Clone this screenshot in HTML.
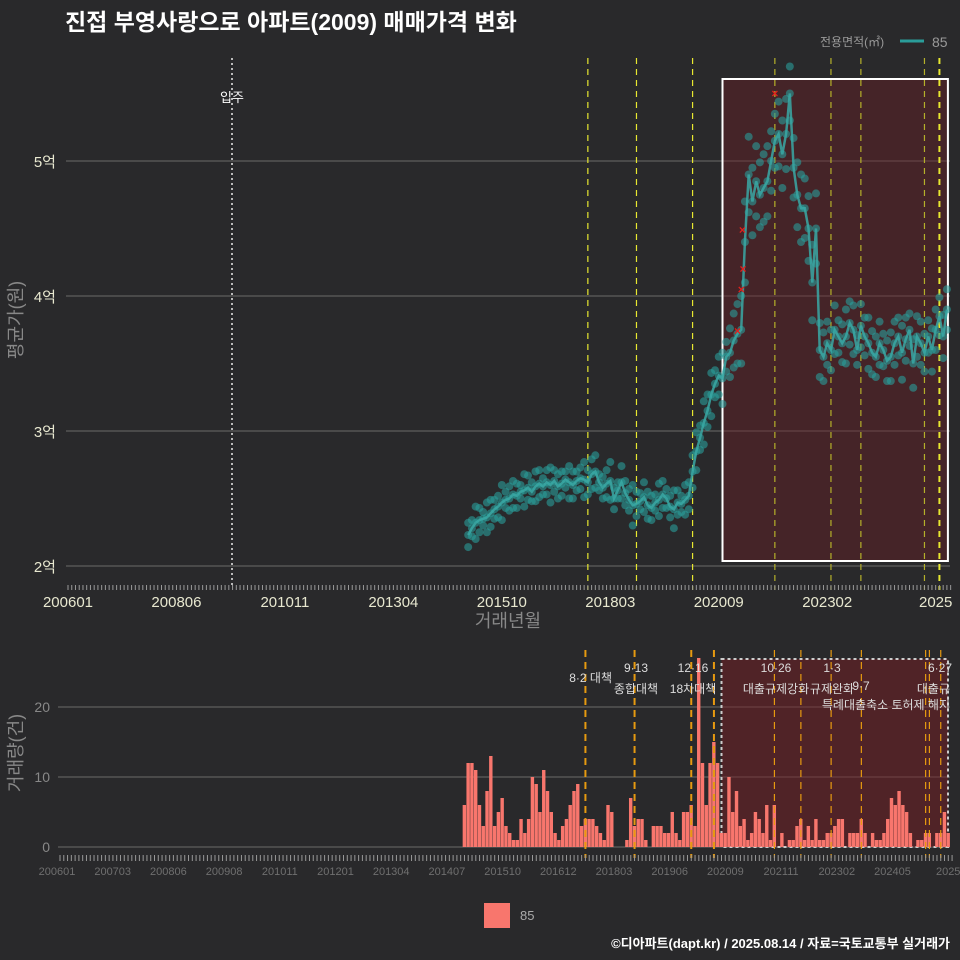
<!DOCTYPE html>
<html><head><meta charset="utf-8">
<style>
body{margin:0;background:#29292b;}
svg{display:block;font-family:"Liberation Sans","Noto Sans CJK KR",sans-serif;}
</style></head>
<body>
<svg id="c" width="960" height="960" viewBox="0 0 960 960">
<rect width="960" height="960" fill="#29292b"/>
<text x="65" y="30" fill="#fff" font-size="23" font-weight="bold">진접 부영사랑으로 아파트(2009) 매매가격 변화</text>
<g>
<text x="820" y="46" fill="#999" font-size="12">전용면적(㎡)</text>
<line x1="900" y1="41" x2="924" y2="41" stroke="#2a9d9a" stroke-width="3"/>
<text x="932" y="47" fill="#999" font-size="14">85</text>
</g>
<text transform="translate(22,320) rotate(-90)" text-anchor="middle" fill="#888" font-size="18">평균가(원)</text>
<text x="508" y="627" text-anchor="middle" fill="#888" font-size="18">거래년월</text>
<text transform="translate(22,753) rotate(-90)" text-anchor="middle" fill="#888" font-size="18">거래량(건)</text>
<g id="topPanel"></g>
<g id="botPanel"></g>
<rect x="484" y="903" width="26" height="25" fill="#f8766d"/>
<text x="520" y="920" fill="#aaa" font-size="13">85</text>
<text x="950" y="948" text-anchor="end" fill="#fff" font-size="13" font-weight="bold">©디아파트(dapt.kr) / 2025.08.14 / 자료=국토교통부 실거래가</text>
</svg>
<script>
const startMonth = 107; // 201412 as months since 200601
const avgPrice = [22300,22800,23200,23400,23500,23600,23900,24200,24400,24700,24900,25000,25300,
25200,25500,25600,25800,25500,25900,26100,25900,26200,26000,26300,25900,
26100,26400,26200,26000,26300,26500,26400,26200,26800,27000,26200,25800,
26100,26300,25000,25600,26200,25400,24900,24500,24600,24800,25100,24500,
24300,24700,24900,25300,25000,24400,24200,24700,24600,24900,25200,27000,
28500,29500,30600,31500,32700,33500,34100,33900,35500,35800,36700,37200,
37500,44000,49000,47000,48500,47500,48000,48500,50000,51500,52000,50500,
52000,55000,49500,47500,46500,46500,45000,41000,45000,36000,35500,36500,
36000,37500,37000,36500,37000,38000,37500,36000,37800,37000,36500,35800,
35500,36500,36000,35200,35500,36500,37000,35800,36800,37500,35000,37000,
36500,35800,37000,36000,37500,38500,37000,39000];
const priceSpread = [9,6,12,9,5,11,10,7,8,13,6,9,10,
9,5,12,9,7,11,10,6,9,13,8,9,
9,6,12,10,7,8,13,9,11,12,6,8,
10,14,8,6,12,9,8,15,9,6,11,10,
9,6,12,10,7,8,14,9,6,11,10,12,
14,9,16,12,16,10,14,19,11,18,20,22,
25,30,28,25,26,24,25,26,22,20,24,25,
26,20,22,24,25,22,24,28,26,20,18,16,
15,18,12,14,20,16,18,11,16,14,19,16,
15,16,12,15,18,16,14,20,16,12,18,15,
16,14,12,16,15,14,16,15];
const volume = [6,12,12,11,6,3,8,13,3,5,7,3,2,1,1,4,2,4,10,9,5,11,8,5,2,1,3,4,6,8,9,3,4,4,4,3,2,1,6,5,0,0,0,1,7,3,4,4,1,0,3,3,3,2,2,5,2,1,5,5,6,3,27,12,6,12,15,12,2,2,10,5,8,3,4,1,2,5,4,2,6,1,6,0,2,0,1,1,3,4,1,3,1,4,1,1,2,2,3,4,4,0,2,2,2,4,2,0,2,1,1,2,4,7,6,8,6,5,2,0,1,1,2,2,0,2,2,5,2];
const peakMonths = [179,180,180.5,180.3,189];
const peakPrices = [37400,40500,42000,44900,55000];
const policyMonths = [139,152,167,189,204,212,229,233];
const volPolicyMonths = [139,152,167,173,189,196,204,212,229,230,233];
const topTickLabels = ["200601","200806","201011","201304","201510","201803","202009","202302","2025"];
const botTickLabels = ["200601","200703","200806","200908","201011","201201","201304","201407","201510","201612","201803","201906","202009","202111","202302","202405","2025"];
const priceTicks = [20000,30000,40000,50000];
const priceTickLabels = ["2억","3억","4억","5억"];
const volTicks = [0,10,20];

const NS="http://www.w3.org/2000/svg";
function mk(parent,tag,attrs,text){const e=document.createElementNS(NS,tag);for(const k in attrs)e.setAttribute(k,attrs[k]);if(text!==undefined)e.textContent=text;parent.appendChild(e);return e;}
const topG=document.getElementById('topPanel'), botG=document.getElementById('botPanel');
const xT=m=>68+m*3.74, yT=v=>566-(v-20000)*0.0135;
const xB=m=>60+m*3.78, yB=v=>847-v*7;

priceTicks.forEach((t,i)=>{
 let g=mk(topG,'line',{x1:66,x2:950,y1:yT(t),y2:yT(t),stroke:'#6a6a6a','stroke-width':1});
 
 
 let l=mk(topG,'text',{x:56,y:yT(t)+6,'text-anchor':'end',fill:'#e8e8d0','font-size':15},priceTickLabels[i]);
 
 
});
let hr=mk(topG,'rect',{x:xT(175),y:79,width:xT(235)-xT(175)+1,height:482,fill:'rgba(110,30,35,0.42)',stroke:'#fff','stroke-width':2});


let mv=mk(topG,'line',{x1:232,x2:232,y1:58,y2:585,stroke:'#bbb','stroke-width':2,'stroke-dasharray':'2,3'});


let mvt=mk(topG,'text',{x:232,y:102,'text-anchor':'middle',fill:'#fff','font-size':13},'입주');


policyMonths.forEach(m=>{
 let l=mk(topG,'line',{x1:xT(m),x2:xT(m),y1:58,y2:590,stroke:m>=175&&m<233?'#b5b02a':'#e8e830','stroke-width':m==233?2:1.2,'stroke-dasharray':'6,5'});
 
 
});
avgPrice.forEach((v,i)=>{
 const m=startMonth+i;
 [v, v+priceSpread[i]*100, v-priceSpread[i]*100].forEach(p=>{
  let c=mk(topG,'circle',{cx:xT(m),cy:yT(p),r:4,fill:'#2a9d9a','fill-opacity':0.6});
  
  
 });
});
let pts=avgPrice.map((v,i)=>xT(startMonth+i).toFixed(1)+','+yT(v).toFixed(1)).join(' ');
let pl=mk(topG,'polyline',{points:pts,fill:'none',stroke:'#3aa8a5','stroke-width':2.5,'stroke-opacity':0.85});


peakMonths.forEach((m,i)=>{
 let t=mk(topG,'text',{x:xT(m),y:yT(peakPrices[i])+4,'text-anchor':'middle',fill:'#e0201c','font-size':12,'font-weight':'bold'},'×');
 
 
});
for(let m=0;m<=236;m++){
 let t=mk(topG,'line',{x1:xT(m),x2:xT(m),y1:585,y2:590,stroke:'#999','stroke-width':1});
 
 
}
topTickLabels.forEach((s,i)=>{
 let t=mk(topG,'text',{x:xT(i*29),y:607,'text-anchor':'middle',fill:'#e8e8d0','font-size':15},s);
 
 
});

volTicks.forEach(t=>{
 let g=mk(botG,'line',{x1:58,x2:950,y1:yB(t),y2:yB(t),stroke:'#6a6a6a','stroke-width':1});
 
 
 let l=mk(botG,'text',{x:50,y:yB(t)+5,'text-anchor':'end',fill:'#888','font-size':14},t);
 
 
});
let br=mk(botG,'rect',{x:xB(175),y:659,width:948-xB(175),height:188,fill:'rgba(120,30,35,0.5)',stroke:'#ccc','stroke-width':2,'stroke-dasharray':'3,3'});


volume.forEach((v,i)=>{
 const m=startMonth+i;
 let b=mk(botG,'rect',{x:xB(m)-1.8,y:yB(v),width:3.4,height:v*7,fill:'#f8766d'});
 
 
});
volPolicyMonths.forEach(m=>{
 let l=mk(botG,'line',{x1:xB(m),x2:xB(m),y1:650,y2:858,stroke:'#e69a10','stroke-width':m<175?2:1.2,'stroke-dasharray':'7,5'});
 
 
});
for(let m=0;m<=236;m++){
 let t=mk(botG,'line',{x1:xB(m),x2:xB(m),y1:855,y2:861,stroke:'#999','stroke-width':1});
 
 
}
botTickLabels.forEach((s,i)=>{
 let t=mk(botG,'text',{x:57+i*55.7,y:875,'text-anchor':'middle',fill:'#6f6f6f','font-size':11},s);
 
 
});
const notes=[[612,682,'end','8·2 대책'],[636,672,'middle','9·13'],[636,693,'middle','종합대책'],[693,672,'middle','12·16'],[693,693,'middle','18차대책'],
[776,672,'middle','10·26'],[776,693,'middle','대출규제강화'],[832,672,'middle','1·3'],[832,693,'middle','규제완화'],[861,690,'middle','9·7'],
[950,709,'end','특례대출축소 토허제 해지'],[940,672,'middle','6·27'],[950,693,'end','대출규']];
notes.forEach(n=>{
 let t=mk(botG,'text',{x:n[0],y:n[1],'text-anchor':n[2],fill:'#ddd','font-size':12},n[3]);
 
 
});
</script>
</body></html>
